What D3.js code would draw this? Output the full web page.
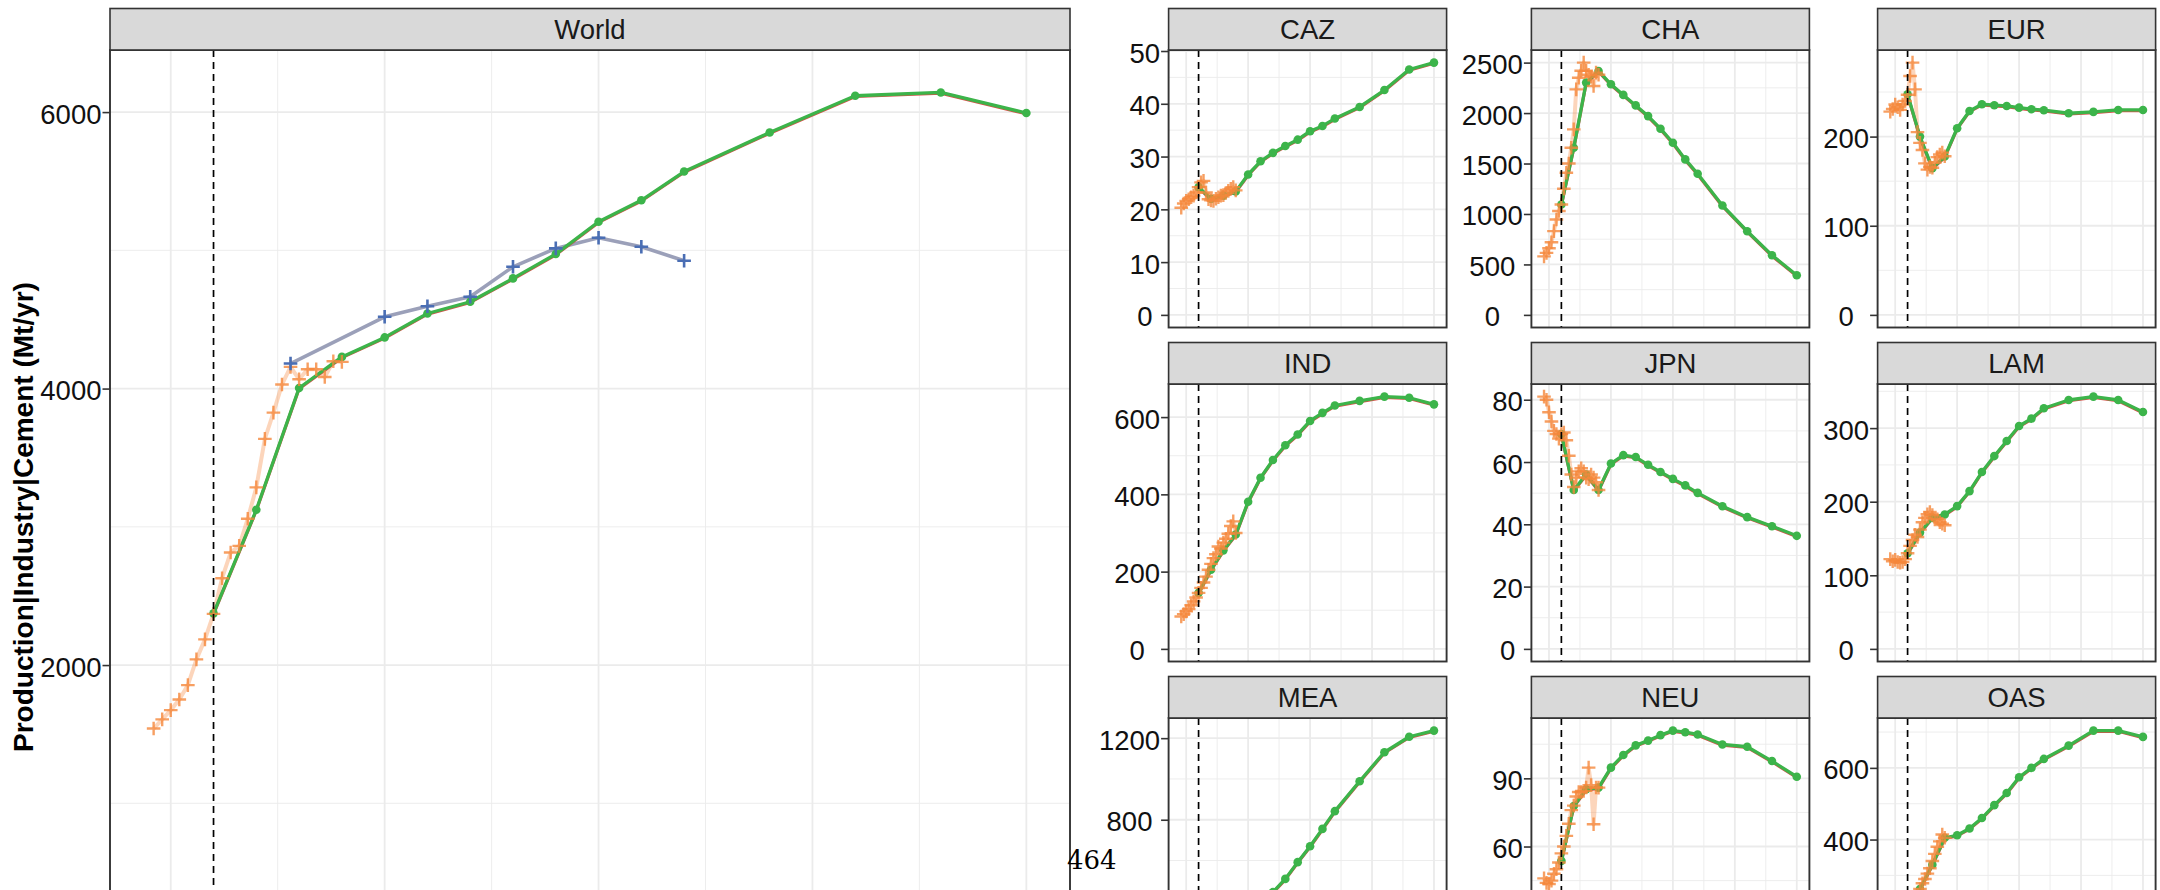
<!DOCTYPE html>
<html><head><meta charset="utf-8">
<script src="https://cdn.jsdelivr.net/npm/d3@7"></script>
<style>
body{margin:0;background:#fff}
svg text{font-family:"Liberation Sans",Arial,Helvetica,sans-serif}
svg text.pagenum{font-family:"DejaVu Serif","Liberation Serif",serif}
</style>
</head><body>
<svg id="chart" width="2160" height="890"></svg>
<script>
// ---------------- DATA ----------------
const histYears  = [1998,1999,2000,2001,2002,2003,2004,2005,2006,2007,2008,2009,2010,2011,2012,2013,2014,2015,2016,2017,2018,2019,2020];
const modelYears = [2005,2010,2015,2020,2025,2030,2035,2040,2045,2050,2055,2060,2070,2080,2090,2100];
const refYears   = [2014,2025,2030,2035,2040,2045,2050,2055,2060];
const xMajorBreaks = [2000,2025,2050,2075,2100];
const xMinorBreaks = [2012.5,2037.5,2062.5,2087.5];
const calibrationYear = 2005;

const worldHist  = [1541,1607,1674,1751,1855,2041,2186,2370,2628,2814,2862,3058,3285,3636,3826,4029,4157,4067,4140,4140,4084,4198,4193];
const worldModel = [2374,3123,4004,4229,4370,4543,4628,4797,4973,5207,5362,5570,5852,6118,6142,5993];
const worldRef   = [4181,4519,4596,4664,4881,5014,5091,5026,4925];
const worldTicks = [0,2000,4000,6000];

const cazHist  = [20.3,21.1,21.6,21.9,22.3,22.6,23.2,24.2,25.1,25.4,23.2,21.9,21.7,21.6,22.0,22.3,22.6,22.7,23.1,23.5,23.9,24.2,23.6];
const cazModel = [24.2,22.0,22.6,23.4,26.6,29.1,30.7,32.0,33.2,34.8,35.8,37.2,39.4,42.6,46.5,47.8];
const cazTicks = [0,10,20,30,40,50];

const chaHist  = [580,615,660,720,830,945,1030,1094,1250,1409,1500,1657,1838,2235,2350,2420,2500,2420,2380,2360,2268,2401,2380];
const chaModel = [1094,1657,2302,2417,2285,2180,2076,1970,1845,1706,1541,1399,1084,829,591,393];
const chaTicks = [0,500,1000,1500,2000,2500];

const eurHist  = [228,231,236,233,230,236,240,247,268,283,253,205,193,185,170,163,166,165,171,177,180,182,178];
const eurModel = [247.5,200,164.6,177.6,209.4,228.8,236.3,235.2,234.4,232.5,230.7,229.6,226.2,227.7,229.9,229.9];
const eurTicks = [0,100,200];

const indHist  = [84,90,97,103,113,123,133,145,158,172,187,205,220,235,245,265,260,275,285,298,318,330,300];
const indModel = [145,205,255,296,381,443,489,527,555,590,611,630,642,653,650,633];
const indTicks = [0,200,400,600];

const jpnHist  = [81,80,76,73,70,69,67.5,69,69.5,67,62,56,52,55,57,58,57,55,54.5,56,55,53.5,51];
const jpnModel = [69,51,56,51,59.5,62.2,61.6,59.1,56.8,54.6,52.5,50.1,45.8,42.3,39.4,36.3];
const jpnTicks = [0,20,40,60,80];

const lamHist  = [122,119,121,118,117,118,122,130,140,148,155,152,162,172,178,183,186,182,176,176,172,170,168];
const lamModel = [130,158,178,182.7,194,214.4,240.3,262,282.4,302.9,312.9,327,338.2,342.8,338.2,321.9];
const lamTicks = [0,100,200,300];

const meaHist  = [150,155,162,170,180,195,210,225,245,265,285,300,320,335,345,360,370,375,380,385,390,395,390];
const meaModel = [225,320,372,390,385,405,445,510,592,670,755,842,989,1131,1207,1237];
const meaTicks = [0,400,800,1200];

const neuHist  = [46,44,43.5,45,48,50,53,57,60,64.7,70,76,78,82,84,84,84.5,86,94.7,87,69.8,86,85.9];
const neuModel = [53.7,77.8,85.2,85.9,94.7,100.3,104.5,106.6,109,111,110.3,109.3,104.9,103.9,97.6,90.7];
const neuTicks = [0,30,60,90];

const oasHist  = [150,160,170,175,180,190,200,205,215,225,235,245,262,278,290,305,320,340,360,380,395,414,405];
const oasModel = [205,262,330,405,412,431,460,496,530,574,600,625,662,704,704,686.5];
const oasTicks = [0,200,400,600];

const regionNames = ["CAZ","CHA","EUR","IND","JPN","LAM","MEA","NEU","OAS"];
const regionHist  = [cazHist,chaHist,eurHist,indHist,jpnHist,lamHist,meaHist,neuHist,oasHist];
const regionModel = [cazModel,chaModel,eurModel,indModel,jpnModel,lamModel,meaModel,neuModel,oasModel];
const regionTicks = [cazTicks,chaTicks,eurTicks,indTicks,jpnTicks,lamTicks,meaTicks,neuTicks,oasTicks];

const yTitle = "Production|Industry|Cement (Mt/yr)";
const pageNumber = "464";

// ---------------- STYLE ----------------
const C = {
  grid:"#ebebeb", border:"#333333", strip:"#d9d9d9", text:"#1a1a1a",
  green:"#3cb44a", orange:"#f5873b", blue:"#4a6eb4", blueLine:"#9ba0b9"
};
const FS = 27.5;
const CANVAS_H = 890;
const svg = d3.select("#chart");
const xDomain = [histYears[0] - 0.05*(modelYears[modelYears.length-1]-histYears[0]),
                 modelYears[modelYears.length-1] + 0.05*(modelYears[modelYears.length-1]-histYears[0])];
let clipId = 0;

function crossPath(s){ return `M${-s},0H${s}M0,${-s}V${s}`; }

function drawPanel(o){
  const {left,right,stripTop,stripH,bottom,title,hist,model,ref,ticks} = o;
  const top = stripTop + stripH;
  const g = svg.append("g");
  const x = d3.scaleLinear().domain(xDomain).range([left,right]);
  const allVals = [0].concat(hist, model, ref ? ref : []);
  const vmax = d3.max(allVals), vmin = d3.min(allVals);
  const pad = 0.05*(vmax - vmin);
  const y = d3.scaleLinear().domain([vmin - pad, vmax + pad]).range([bottom, top]);

  // grid
  const step = ticks[1]-ticks[0];
  const yMinor = [];
  for (let i=-1;i<ticks.length;i++){ const v = ticks[0]+(i+0.5)*step; if (v>=y.domain()[0] && v<=y.domain()[1]) yMinor.push(v); }
  const grid = g.append("g");
  grid.selectAll(".ymi").data(yMinor).join("line")
    .attr("x1",left).attr("x2",right).attr("y1",d=>y(d)).attr("y2",d=>y(d))
    .attr("stroke",C.grid).attr("stroke-width",0.9);
  grid.selectAll(".xmi").data(xMinorBreaks).join("line")
    .attr("y1",top).attr("y2",bottom).attr("x1",d=>x(d)).attr("x2",d=>x(d))
    .attr("stroke",C.grid).attr("stroke-width",0.9);
  grid.selectAll(".yma").data(ticks).join("line")
    .attr("x1",left).attr("x2",right).attr("y1",d=>y(d)).attr("y2",d=>y(d))
    .attr("stroke",C.grid).attr("stroke-width",1.8);
  grid.selectAll(".xma").data(xMajorBreaks).join("line")
    .attr("y1",top).attr("y2",bottom).attr("x1",d=>x(d)).attr("x2",d=>x(d))
    .attr("stroke",C.grid).attr("stroke-width",1.8);

  // clip
  const id = "clip"+(clipId++);
  g.append("clipPath").attr("id",id).append("rect")
    .attr("x",left).attr("y",top).attr("width",right-left).attr("height",bottom-top);
  const d = g.append("g").attr("clip-path",`url(#${id})`);

  const histData  = histYears.map((yr,i)=>({yr, v:hist[i]}));
  const modelData = modelYears.map((yr,i)=>({yr, v:model[i]}));
  const line = d3.line().x(p=>x(p.yr)).y(p=>y(p.v));

  d.append("path").datum(histData).attr("d",line).attr("fill","none")
    .attr("stroke",C.orange).attr("stroke-opacity",0.35).attr("stroke-width",4).attr("stroke-linejoin","round");
  let refData = null;
  if (ref){
    refData = refYears.map((yr,i)=>({yr, v:ref[i]}));
    d.append("path").datum(refData).attr("d",line).attr("fill","none")
      .attr("stroke",C.blueLine).attr("stroke-width",3.6).attr("stroke-linejoin","round");
  }
  d.append("path").datum(modelData).attr("d",line).attr("fill","none")
    .attr("stroke","#d8504a").attr("stroke-width",3.2).attr("stroke-linejoin","round")
    .attr("transform","translate(0,0.7)");
  d.append("path").datum(modelData).attr("d",line).attr("fill","none")
    .attr("stroke",C.green).attr("stroke-width",3.3).attr("stroke-linejoin","round");
  d.selectAll(".gp").data(modelData).join("circle")
    .attr("cx",p=>x(p.yr)).attr("cy",p=>y(p.v)).attr("r",4.3).attr("fill",C.green);
  d.selectAll(".op").data(histData).join("path")
    .attr("d",crossPath(6.8)).attr("transform",p=>`translate(${x(p.yr)},${y(p.v)})`)
    .attr("stroke",C.orange).attr("stroke-opacity",0.8).attr("stroke-width",2.4).attr("fill","none");
  if (refData){
    d.selectAll(".bp").data(refData).join("path")
      .attr("d",crossPath(6.8)).attr("transform",p=>`translate(${x(p.yr)},${y(p.v)})`)
      .attr("stroke",C.blue).attr("stroke-width",2.6).attr("fill","none");
  }
  // dashed calibration line
  d.append("line").attr("x1",x(calibrationYear)).attr("x2",x(calibrationYear))
    .attr("y1",top).attr("y2",bottom).attr("stroke","#000").attr("stroke-width",1.7)
    .attr("stroke-dasharray","7,5");

  // border
  g.append("rect").attr("x",left).attr("y",top).attr("width",right-left).attr("height",bottom-top)
    .attr("fill","none").attr("stroke",C.border).attr("stroke-width",1.9);
  // strip
  g.append("rect").attr("x",left).attr("y",stripTop).attr("width",right-left).attr("height",stripH)
    .attr("fill",C.strip).attr("stroke",C.border).attr("stroke-width",1.6);
  g.append("text").attr("x",(left+right)/2).attr("y",stripTop+stripH/2+10)
    .attr("text-anchor","middle").attr("font-size",FS).attr("fill",C.text).text(title);

  // y axis (only ticks that fall on the visible canvas)
  const tickLen = 7.5;
  const ax = d3.axisLeft(y).tickValues(ticks).tickSize(tickLen).tickFormat(d3.format("d"));
  const axG = g.append("g").attr("transform",`translate(${left},0)`).call(ax);
  axG.attr("font-family",null).attr("font-size",null);
  axG.select(".domain").remove();
  axG.selectAll(".tick line").attr("stroke",C.border).attr("stroke-width",1.6);
  const tx = axG.selectAll(".tick text").attr("font-size",FS).attr("fill","#111").attr("dy",null).attr("y",11);
  let maxW = 0;
  tx.each(function(){ maxW = Math.max(maxW, this.getComputedTextLength()); });
  tx.attr("text-anchor","middle").attr("x", -(tickLen + 1 + maxW/2));
  axG.selectAll(".tick").filter(t => y(t) + 13 > CANVAS_H).remove();
}

// World panel
drawPanel({left:110, right:1070, stripTop:8.5, stripH:41.5, bottom:984,
  title:"World", hist:worldHist, model:worldModel, ref:worldRef, ticks:worldTicks});

// Regional panels
const colLefts = [1168.6, 1531.4, 1877.6];
const panelW = 278, rowPitch = 334, stripH = 41.5, panelH = 277.5;
regionNames.forEach((nm,i)=>{
  const r = Math.floor(i/3), c = i%3;
  const st = 8.5 + r*rowPitch;
  drawPanel({left:colLefts[c], right:colLefts[c]+panelW, stripTop:st, stripH,
    bottom: st+stripH+panelH, title:nm, hist:regionHist[i], model:regionModel[i], ref:null, ticks:regionTicks[i]});
});

// y-axis title
svg.append("text").attr("transform","translate(32.5,517) rotate(-90)")
  .attr("text-anchor","middle").attr("font-size",28).attr("font-weight","bold")
  .attr("fill","#000").text(yTitle);

// page number
svg.append("text").attr("class","pagenum").attr("x",1067).attr("y",869)
  .attr("font-size",26).attr("fill","#000").text(pageNumber);
</script>
</body></html>
